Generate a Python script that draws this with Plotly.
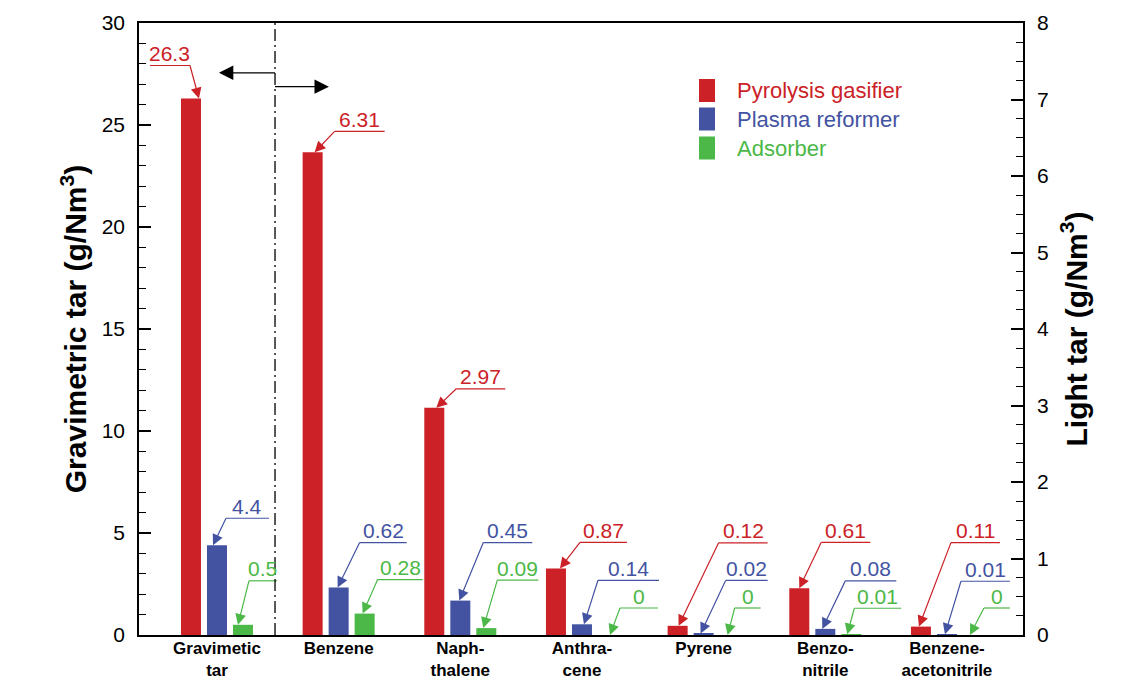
import plotly.graph_objects as go

# ---------------- data ----------------
categories = ["Gravimetic<br>tar", "Benzene", "Naph-<br>thalene", "Anthra-<br>cene",
              "Pyrene", "Benzo-<br>nitrile", "Benzene-<br>acetonitrile"]
series_names = ["Pyrolysis gasifier", "Plasma reformer", "Adsorber"]
pyrolysis = [26.3, 6.31, 2.97, 0.87, 0.12, 0.61, 0.11]
plasma = [4.4, 0.62, 0.45, 0.14, 0.02, 0.08, 0.01]
adsorber = [0.5, 0.28, 0.09, 0, 0, 0.01, 0]
left_title = "Gravimetric tar (g/Nm<sup>3</sup>)"
right_title = "Light tar (g/Nm<sup>3</sup>)"

# ---------------- style / layout ----------------
W, H = 1135, 680
ML, MR, MT, MB = 139, 112, 23, 45
FONT = "Arial, 'Liberation Sans', sans-serif"
COLORS = ["#CB2127", "#4353A2", "#4BB847"]
BAR_W = 0.1644
OFFSETS = [-0.296, -0.0822, 0.1315]
# label geometry (pixels, relative to bar centre): tip dx, elbow dx, rise, line length
LBL = [
    dict(tx=[8, 2, 2, 4, 1, 0, -2], ex=[-1, 22, 22, 24, 41, 22, 30],
         rise=[33, 21, 19, 26, 83, 46, 84], ln=[-40, 50, 49, 47, 49, 49, 49]),
    dict(tx=[-4, -1, -1, 2, -3, -3, -2], ex=[9, 21, 23, 16, 22, 20, 14],
         rise=[27, 45, 58, 44, 53, 48, 53], ln=[43, 47, 49, 61, 42, 51, 49]),
    dict(tx=[-5, -2, -3, 2, -2, -4, -3], ex=[6, 13, 11, 12, 5, 3, 11],
         rise=[44, 34, 48, 27, 27, 26, 27], ln=[28, 45, 41, 38, 26, 47, 26]),
]
DIVIDER_X = 0.477

series = [pyrolysis, plasma, adsorber]
fig = go.Figure()
annotations = []
shapes = []

for s, vals in enumerate(series):
    # gravimetric on left axis, the rest on right axis
    fig.add_trace(go.Bar(x=[0], y=[vals[0]], yaxis="y", offset=OFFSETS[s], width=BAR_W,
                         marker=dict(color=COLORS[s], line=dict(width=0)),
                         name=series_names[s], showlegend=False))
    fig.add_trace(go.Bar(x=list(range(1, len(categories))), y=vals[1:], yaxis="y2",
                         offset=OFFSETS[s], width=BAR_W,
                         marker=dict(color=COLORS[s], line=dict(width=0)),
                         name=series_names[s], showlegend=False))
    g = LBL[s]
    for i, v in enumerate(vals):
        yref = "y" if i == 0 else "y2"
        xc = i + OFFSETS[s] + BAR_W / 2
        # arrow
        annotations.append(dict(x=xc, y=v, xref="x", yref=yref, text="", showarrow=True,
                                xshift=g["tx"][i], ax=g["ex"][i] - g["tx"][i], ay=-g["rise"][i],
                                arrowhead=2, arrowsize=1.8, arrowwidth=1.2,
                                arrowcolor=COLORS[s], borderpad=0, borderwidth=0, standoff=0))
        # underline
        shapes.append(dict(type="line", xref="x", yref=yref,
                           xsizemode="pixel", xanchor=xc, x0=g["ex"][i], x1=g["ex"][i] + g["ln"][i],
                           ysizemode="pixel", yanchor=v, y0=g["rise"][i], y1=g["rise"][i],
                           line=dict(color=COLORS[s], width=1.2)))
        # value text
        annotations.append(dict(x=xc, y=v, xref="x", yref=yref, text=f"{v:g}", showarrow=False,
                                xshift=g["ex"][i] + g["ln"][i] / 2, yshift=g["rise"][i] + 12,
                                xanchor="center", yanchor="middle",
                                font=dict(family=FONT, size=21, color=COLORS[s])))

# divider line and direction arrows
shapes.append(dict(type="line", xref="x", yref="paper", x0=DIVIDER_X, x1=DIVIDER_X, y0=0, y1=1,
                   line=dict(color="black", width=1.3, dash="12px,4px,2px,4px")))
annotations.append(dict(x=0.016, y=27.56, xref="x", yref="y", ax=DIVIDER_X, ay=27.56,
                        axref="x", ayref="y", text="", showarrow=True, arrowhead=2,
                        arrowsize=2.4, arrowwidth=1.2, arrowcolor="black", standoff=0,
                        borderpad=0, borderwidth=0))
annotations.append(dict(x=0.92, y=26.88, xref="x", yref="y", ax=DIVIDER_X, ay=26.88,
                        axref="x", ayref="y", text="", showarrow=True, arrowhead=2,
                        arrowsize=2.4, arrowwidth=1.2, arrowcolor="black", standoff=0,
                        borderpad=0, borderwidth=0))

# custom legend
PW, PH = W - ML - MR, H - MT - MB
def px_x(p):
    return (p - ML) / PW
def px_y(p):
    return (H - MB - p) / PH
leg_top = [79, 107.5, 136.5]
for s, name in enumerate(series_names):
    shapes.append(dict(type="rect", xref="paper", yref="paper",
                       x0=px_x(699), x1=px_x(715), y0=px_y(leg_top[s] + 23), y1=px_y(leg_top[s]),
                       fillcolor=COLORS[s], line=dict(width=0)))
    annotations.append(dict(x=px_x(735), y=px_y(leg_top[s] + 11.5), xref="paper", yref="paper",
                            text=name, showarrow=False, xanchor="left", yanchor="middle",
                            font=dict(family=FONT, size=22, color=COLORS[s])))

fig.update_layout(
    width=W, height=H, margin=dict(l=ML, r=MR, t=MT, b=MB, pad=0, autoexpand=False),
    paper_bgcolor="white", plot_bgcolor="white", barmode="overlay",
    font=dict(family=FONT, color="black"),
    xaxis=dict(range=[-0.641, 6.625], tickvals=list(range(len(categories))),
               ticktext=[f"<b>{c}</b>" for c in categories], ticks="", showgrid=False,
               zeroline=False, showline=True, linecolor="black", linewidth=1.5, mirror=True,
               automargin=False,
               tickfont=dict(family=FONT, size=17, color="black"), ticklabelstandoff=-3),
    yaxis=dict(range=[0, 30], dtick=5, ticks="inside", ticklen=12, tickwidth=1.5,
               tickcolor="black", showline=True, linecolor="black", linewidth=1.5,
               showgrid=False, zeroline=False, automargin=False,
               minor=dict(dtick=1, ticks="inside", ticklen=7, tickwidth=1, tickcolor="black"),
               tickfont=dict(family=FONT, size=21, color="black"), ticklabelstandoff=8,
               title=dict(text=f"<b>{left_title}</b>", font=dict(family=FONT, size=30, color="black"),
                          standoff=6)),
    yaxis2=dict(range=[0, 8], dtick=1, overlaying="y", side="right", ticks="inside",
                ticklen=12, tickwidth=1.5, tickcolor="black", showline=True, linecolor="black",
                linewidth=1.5, showgrid=False, zeroline=False, automargin=False,
                minor=dict(dtick=0.25, ticks="inside", ticklen=7, tickwidth=1, tickcolor="black"),
                tickfont=dict(family=FONT, size=21, color="black"), ticklabelstandoff=8,
                title=dict(text=f"<b>{right_title}</b>", font=dict(family=FONT, size=30, color="black"),
                           standoff=18)),
    annotations=annotations, shapes=shapes,
)

fig.write_html("out.html", config={"displayModeBar": False},
               post_script="document.body.style.margin='0px';")
